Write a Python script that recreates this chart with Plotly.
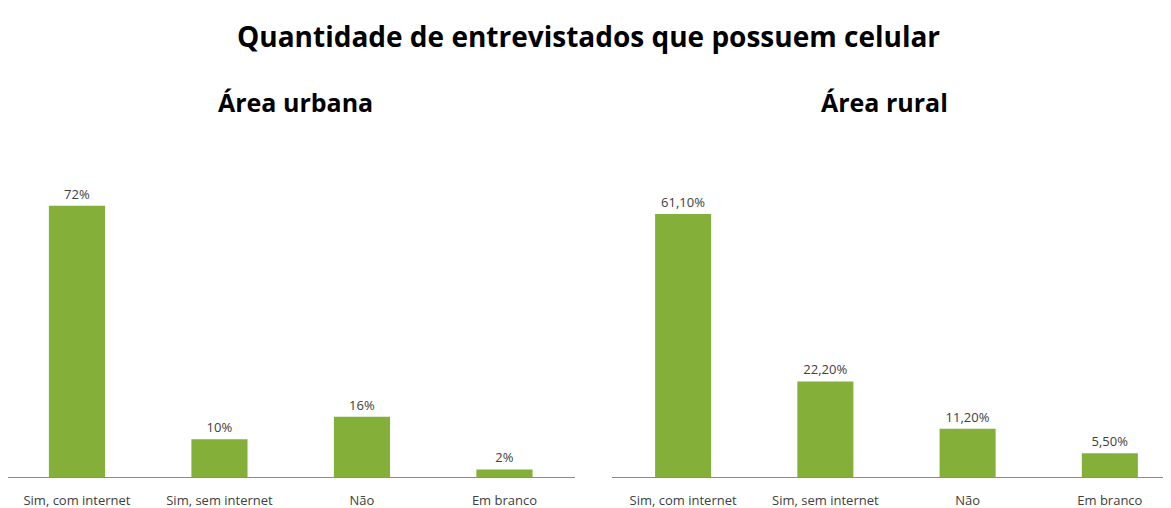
import plotly.graph_objects as go

categories = ["Sim, com internet", "Sim, sem internet", "Não", "Em branco"]
urbana_values = [72, 10, 16, 2]
rural_values = [61.1, 22.2, 11.2, 5.5]
urbana_labels = ["72%", "10%", "16%", "2%"]
rural_labels = ["61,10%", "22,20%", "11,20%", "5,50%"]

main_title = "Quantidade de entrevistados que possuem celular"
sub_titles = ["Área urbana", "Área rural"]

OFF = 8  # page body margin
W, H = 1171 - OFF, 508 - OFF
top, base = 170 - OFF, 477 - OFF
FONT = "Open Sans"
bar_color = "#84b03a"
text_color = "#404040"

fig = go.Figure()
fig.add_trace(go.Bar(x=categories, y=urbana_values, text=urbana_labels,
                     textposition="outside", cliponaxis=False,
                     textfont=dict(size=13, color=text_color, family=FONT),
                     marker=dict(color=bar_color, line=dict(width=0)),
                     xaxis="x", yaxis="y", showlegend=False))
fig.add_trace(go.Bar(x=categories, y=rural_values, text=rural_labels,
                     textposition="outside", cliponaxis=False,
                     textfont=dict(size=13, color=text_color, family=FONT),
                     marker=dict(color=bar_color, line=dict(width=0)),
                     xaxis="x2", yaxis="y2", showlegend=False))

def py(y):
    return (base - (y - OFF)) / (base - top)

def px(x):
    return (x - OFF) / W

xcommon = dict(showgrid=False, zeroline=False, showline=True, linecolor="#8c8c8c",
               linewidth=1, ticks="outside", ticklen=11, tickcolor="rgba(0,0,0,0)",
               tickfont=dict(size=13, color=text_color, family=FONT), fixedrange=True)
ycommon = dict(visible=False, showgrid=False, zeroline=False, fixedrange=True)

fig.update_layout(
    width=W, height=H,
    margin=dict(l=0, r=0, t=top, b=H - base),
    paper_bgcolor="white", plot_bgcolor="white",
    bargap=0.606,
    xaxis=dict(domain=[0, px(575)], anchor="y", range=[-0.484, 3.495], **xcommon),
    xaxis2=dict(domain=[px(612), 1.0], anchor="y2", range=[-0.5, 3.43], **xcommon),
    yaxis=dict(domain=[0, 1], anchor="x", range=[0, 81.5], **ycommon),
    yaxis2=dict(domain=[0, 1], anchor="x2", range=[0, 71.3], **ycommon),
    annotations=[
        dict(text=f"<b>{main_title}</b>", x=px(588), y=py(36), xref="paper", yref="paper",
             showarrow=False, xanchor="center", yanchor="middle",
             font=dict(size=28, color="black", family=FONT)),
        dict(text=f"<b>{sub_titles[0]}</b>", x=px(295), y=py(102), xref="paper", yref="paper",
             showarrow=False, xanchor="center", yanchor="middle",
             font=dict(size=25, color="black", family=FONT)),
        dict(text=f"<b>{sub_titles[1]}</b>", x=px(884), y=py(102), xref="paper", yref="paper",
             showarrow=False, xanchor="center", yanchor="middle",
             font=dict(size=25, color="black", family=FONT)),
    ],
)

fig.write_html("out.html")
